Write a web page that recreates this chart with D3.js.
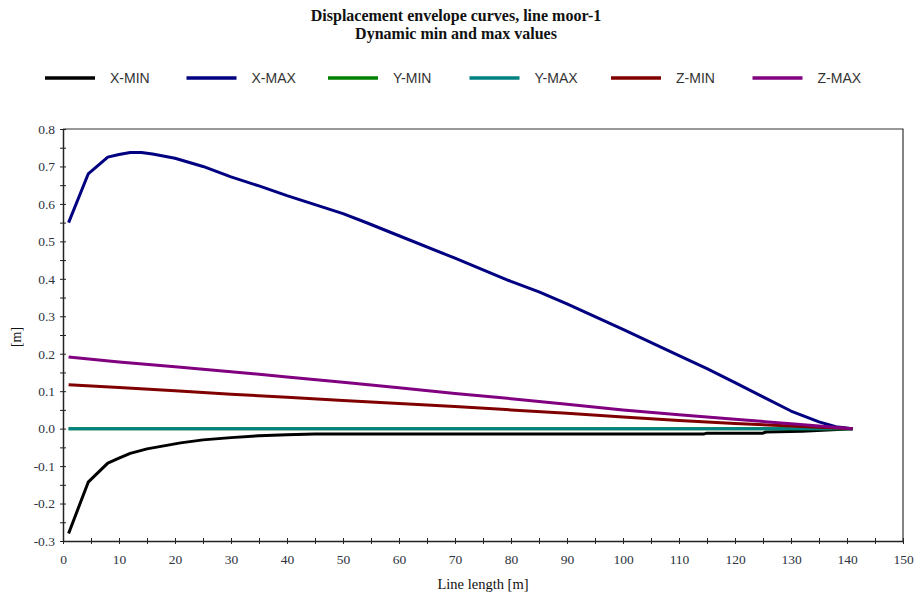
<!DOCTYPE html>
<html>
<head>
<meta charset="utf-8">
<script src="https://cdn.jsdelivr.net/npm/d3@7"></script>
<style>
  html, body { margin: 0; padding: 0; background: #fff; }
  svg { display: block; }
</style>
</head>
<body>
<svg id="chart" width="915" height="599"></svg>
<script>
// Line length positions (m) and displacement values (m) for each envelope curve
const xMinLen = [1, 4.5, 8, 10, 12, 15, 18, 21, 25, 30, 35, 40, 45, 60, 80, 100, 114.5, 115, 125, 125.5, 132, 141];
const xMinVal = [-0.28, -0.143, -0.092, -0.079, -0.066, -0.054, -0.046, -0.038, -0.03, -0.024, -0.019, -0.016, -0.014, -0.014, -0.014, -0.014, -0.014, -0.012, -0.012, -0.009, -0.007, 0];

const xMaxLen = [1, 4.5, 8, 10, 12, 14, 16, 20, 25, 30, 35, 40, 45, 50, 54, 60, 70, 80, 85, 90, 100, 110, 115, 120, 125, 130, 135, 138, 141];
const xMaxVal = [0.55, 0.68, 0.725, 0.732, 0.737, 0.737, 0.733, 0.722, 0.700, 0.672, 0.648, 0.622, 0.598, 0.574, 0.551, 0.515, 0.455, 0.393, 0.365, 0.333, 0.265, 0.195, 0.160, 0.123, 0.085, 0.047, 0.018, 0.005, 0];

const yMinLen = [1, 141];
const yMinVal = [0, 0];

const yMaxLen = [1, 141];
const yMaxVal = [0, 0];

const zMinLen = [1, 10, 20, 30, 40, 50, 60, 70, 80, 90, 100, 110, 120, 130, 141];
const zMinVal = [0.117, 0.110, 0.101, 0.092, 0.084, 0.075, 0.067, 0.059, 0.050, 0.041, 0.031, 0.022, 0.014, 0.007, 0];

const zMaxLen = [1, 10, 20, 30, 40, 50, 60, 70, 80, 90, 100, 110, 120, 130, 141];
const zMaxVal = [0.191, 0.178, 0.165, 0.152, 0.138, 0.124, 0.109, 0.094, 0.080, 0.065, 0.050, 0.037, 0.025, 0.013, 0];

const seriesNames = ["X-MIN", "X-MAX", "Y-MIN", "Y-MAX", "Z-MIN", "Z-MAX"];
const seriesColors = ["#000000", "#000080", "#008000", "#008080", "#800000", "#800080"];

const xTicks = [0, 10, 20, 30, 40, 50, 60, 70, 80, 90, 100, 110, 120, 130, 140, 150];
const yTicks = [-0.3, -0.2, -0.1, 0.0, 0.1, 0.2, 0.3, 0.4, 0.5, 0.6, 0.7, 0.8];

const titleLines = ["Displacement envelope curves, line moor-1", "Dynamic min and max values"];
const xTitle = "Line length [m]";
const yTitle = "[m]";

const series = [
  { len: xMinLen, val: xMinVal },
  { len: xMaxLen, val: xMaxVal },
  { len: yMinLen, val: yMinVal },
  { len: yMaxLen, val: yMaxVal },
  { len: zMinLen, val: zMinVal },
  { len: zMaxLen, val: zMaxVal }
].map((s, i) => ({
  name: seriesNames[i],
  color: seriesColors[i],
  points: s.len.map((l, j) => [l, s.val[j]])
}));

const svg = d3.select("#chart");
const plot = { left: 63, right: 903, top: 129, bottom: 541 };

const x = d3.scaleLinear().domain([0, 150]).range([plot.left, plot.right]);
const y = d3.scaleLinear().domain([-0.3, 0.8]).range([plot.bottom, plot.top]);

const serif = "'Liberation Serif', 'Times New Roman', serif";
const sans = "'Liberation Sans', Arial, sans-serif";

// Title
svg.append("g").selectAll("text")
  .data(titleLines)
  .join("text")
  .attr("x", 456)
  .attr("y", (d, i) => 21 + i * 18)
  .attr("text-anchor", "middle")
  .attr("font-family", serif)
  .attr("font-weight", "bold")
  .attr("font-size", 16)
  .attr("fill", "#111")
  .text(d => d);

// Legend
const legend = svg.append("g").selectAll("g")
  .data(series)
  .join("g")
  .attr("transform", (d, i) => `translate(${45 + i * 141.5},78)`);
legend.append("line")
  .attr("x1", 0).attr("x2", 50)
  .attr("stroke", d => d.color)
  .attr("stroke-width", 3.5);
legend.append("text")
  .attr("x", 65).attr("y", 5)
  .attr("font-family", sans)
  .attr("font-size", 14)
  .attr("fill", "#333")
  .text(d => d.name);

// Frame (top and right edges)
svg.append("path")
  .attr("d", `M${plot.left},${plot.top}H${plot.right}V${plot.bottom}`)
  .attr("fill", "none")
  .attr("stroke", "#333")
  .attr("stroke-width", 1.2);

const fmt = d => d.toFixed(1);

// Y axis: major ticks with labels, minor ticks at the halves
const yAxis = svg.append("g")
  .attr("transform", `translate(${plot.left},0)`)
  .call(d3.axisLeft(y).tickValues(yTicks).tickFormat(fmt).tickSizeInner(3).tickSizeOuter(0).tickPadding(5));
svg.append("g")
  .attr("transform", `translate(${plot.left},0)`)
  .call(d3.axisLeft(y).tickValues(yTicks.slice(0, -1).map(v => v + 0.05)).tickFormat("").tickSizeInner(3).tickSizeOuter(0))
  .call(g => g.select(".domain").remove())
  .call(g => g.selectAll(".tick line").attr("x2", 3).attr("x1", -3).attr("stroke", "#222"));
yAxis.selectAll(".tick line").attr("x1", 3).attr("x2", -3).attr("stroke", "#222");
yAxis.select(".domain").attr("stroke", "#222").attr("stroke-width", 1.5);
yAxis.selectAll("text").attr("font-family", serif).attr("font-size", 13.5).attr("fill", "#2b3340");

// X axis
const xAxis = svg.append("g")
  .attr("transform", `translate(0,${plot.bottom})`)
  .call(d3.axisBottom(x).tickValues(xTicks).tickFormat(d3.format("d")).tickSizeInner(3).tickSizeOuter(0).tickPadding(10));
svg.append("g")
  .attr("transform", `translate(0,${plot.bottom})`)
  .call(d3.axisBottom(x).tickValues(xTicks.slice(0, -1).map(v => v + 5)).tickFormat("").tickSizeInner(3).tickSizeOuter(0))
  .call(g => g.select(".domain").remove())
  .call(g => g.selectAll(".tick line").attr("y1", -3).attr("y2", 3).attr("stroke", "#222"));
xAxis.selectAll(".tick line").attr("y1", -3).attr("y2", 3).attr("stroke", "#222");
xAxis.select(".domain").attr("stroke", "#222").attr("stroke-width", 1.5);
xAxis.selectAll("text").attr("font-family", serif).attr("font-size", 13.5).attr("fill", "#2b3340");

// Axis titles
svg.append("text")
  .attr("x", 483).attr("y", 589)
  .attr("text-anchor", "middle")
  .attr("font-family", serif)
  .attr("font-size", 14.5)
  .attr("fill", "#111")
  .text(xTitle);
svg.append("text")
  .attr("transform", "translate(21,337) rotate(-90)")
  .attr("text-anchor", "middle")
  .attr("font-family", serif)
  .attr("font-size", 14)
  .attr("fill", "#111")
  .text(yTitle);

// Curves
const line = d3.line().x(d => x(d[0])).y(d => y(d[1]));
svg.append("g").selectAll("path")
  .data(series)
  .join("path")
  .attr("d", d => line(d.points))
  .attr("fill", "none")
  .attr("stroke", d => d.color)
  .attr("stroke-width", 3)
  .attr("stroke-linejoin", "round");
</script>
</body>
</html>
